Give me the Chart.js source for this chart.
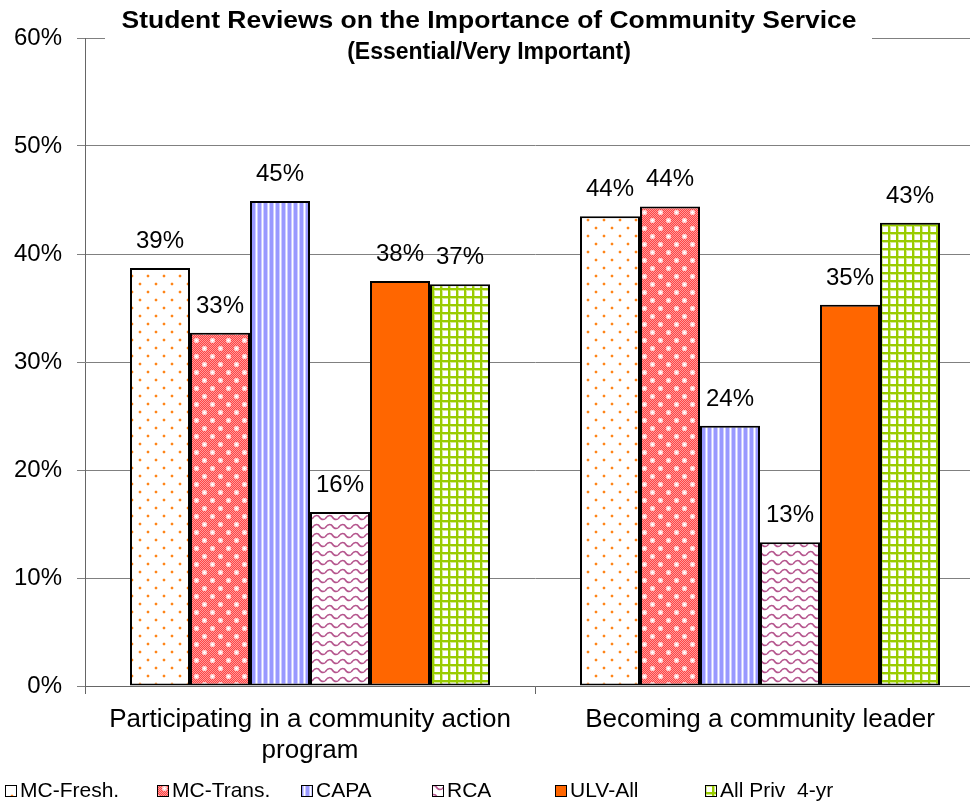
<!DOCTYPE html>
<html>
<head>
<meta charset="utf-8">
<script src="https://cdn.jsdelivr.net/npm/chart.js@4.4.1/dist/chart.umd.min.js"></script>
<style>
  html, body { margin: 0; padding: 0; background: #fff; overflow: hidden; }
  #wrap { width: 970px; height: 812px; overflow: hidden; }
</style>
</head>
<body>
<div id="wrap"><canvas id="chart" width="1000" height="812"></canvas></div>
<script>
// Survey categories and series
const categories = [['Participating in a community action', 'program'], 'Becoming a community leader'];
const seriesNames = ['MC-Fresh.', 'MC-Trans.', 'CAPA', 'RCA', 'ULV-All', 'All Priv  4-yr'];

// Percent answering "essential / very important"
const mcFresh = [38.7, 43.5];
const mcTrans = [32.7, 44.4];
const capa = [44.9, 24.1];
const rca = [16.1, 13.3];
const ulvAll = [37.5, 35.3];
const allPriv = [37.2, 42.9];
const seriesValues = [mcFresh, mcTrans, capa, rca, ulvAll, allPriv];

// Y axis range
const yMin = 0;
const yMax = 60;
const yStep = 10;

const titleLines = ['Student Reviews on the Importance of Community Service', '(Essential/Very Important)'];

const FONT = "'Liberation Sans', Arial, sans-serif";
const canvas = document.getElementById('chart');
const ctx = canvas.getContext('2d');

// small repeating tiles used as bar fills
function makePattern(w, h, draw) {
    const c = document.createElement('canvas');
    c.width = w;
    c.height = h;
    const g = c.getContext('2d');
    g.fillStyle = '#fff';
    g.fillRect(0, 0, w, h);
    draw(g);
    return ctx.createPattern(c, 'repeat');
}

const dots = makePattern(16, 16, g => {
    g.fillStyle = '#ffe3c8';
    g.fillRect(2, 3, 4, 2);
    g.fillRect(3, 2, 2, 4);
    g.fillRect(10, 11, 4, 2);
    g.fillRect(11, 10, 2, 4);
    g.fillStyle = '#ff8419';
    g.fillRect(3, 3, 2, 2);
    g.fillRect(11, 11, 2, 2);
});

const redCheck = makePattern(16, 16, g => {
    for (let y = 0; y < 16; y++) {
        for (let x = 0; x < 16; x++) {
            g.fillStyle = (x + y) % 2 ? '#ff4444' : '#ff9a9a';
            g.fillRect(x, y, 1, 1);
        }
    }
    [[4, 4], [12, 12]].forEach(([cx, cy]) => {
        g.fillStyle = '#ffcccc';
        g.fillRect(cx - 2, cy - 1, 5, 3);
        g.fillRect(cx - 1, cy - 2, 3, 5);
        g.fillStyle = '#fff';
        g.fillRect(cx - 1, cy, 3, 1);
        g.fillRect(cx, cy - 1, 1, 3);
    });
});

const blueStripes = makePattern(6, 6, g => {
    g.fillStyle = '#9999ff';
    g.fillRect(0, 0, 3, 6);
    g.fillStyle = '#ccccff';
    g.fillRect(3, 0, 1, 6);
    g.fillRect(5, 0, 1, 6);
});

const waves = makePattern(13, 9, g => {
    g.strokeStyle = '#b5558d';
    g.lineWidth = 1.5;
    g.beginPath();
    g.moveTo(0, 6);
    g.quadraticCurveTo(3.25, 1, 6.5, 3);
    g.quadraticCurveTo(9.75, 8, 13, 6);
    g.stroke();
});

const greenGrid = makePattern(8, 8, g => {
    g.fillStyle = '#d6eb8f';
    g.fillRect(0, 0, 8, 3);
    g.fillRect(0, 0, 3, 8);
    g.fillStyle = '#99cc00';
    g.fillRect(0, 0, 8, 2);
    g.fillRect(0, 0, 2, 8);
});

const fills = [dots, redCheck, blueStripes, waves, '#ff6600', greenGrid];

// value labels, title box and legend
const decor = {
    id: 'decor',
    afterDatasetsDraw(chart) {
        const c = chart.ctx;
        c.save();
        c.font = '24px ' + FONT;
        c.fillStyle = '#000';
        c.textAlign = 'center';
        c.textBaseline = 'alphabetic';
        seriesValues.forEach((vals, i) => {
            chart.getDatasetMeta(i).data.forEach((bar, j) => {
                c.fillText(Math.round(vals[j]) + '%', bar.x, bar.y - 20);
            });
        });
        c.restore();
    },
    afterDraw(chart) {
        const c = chart.ctx;
        c.save();
        c.fillStyle = '#fff';
        c.fillRect(105, 8, 767, 64);
        c.fillStyle = '#000';
        c.font = 'bold 23px ' + FONT;
        c.textAlign = 'center';
        c.textBaseline = 'middle';
        const stretch = [1.15, 1.0];
        titleLines.forEach((t, k) => {
            c.save();
            c.translate(489, 22 + k * 31);
            c.scale(stretch[k], 1);
            c.fillText(t, 0, 0);
            c.restore();
        });

        const legendX = [5, 157, 301, 432, 555, 705];
        c.font = '21px ' + FONT;
        c.textAlign = 'left';
        seriesNames.forEach((name, i) => {
            const x = legendX[i];
            c.fillStyle = fills[i];
            c.fillRect(x, 785, 11, 11);
            c.strokeStyle = '#000';
            c.lineWidth = 1;
            c.strokeRect(x + 0.5, 785.5, 11, 11);
            c.fillStyle = '#000';
            c.fillText(name, x + 15, 791);
        });
        c.restore();
    }
};

new Chart(canvas, {
    type: 'bar',
    data: {
        labels: categories,
        datasets: seriesNames.map((name, i) => ({
            label: name,
            data: seriesValues[i],
            backgroundColor: fills[i],
            borderColor: '#000',
            borderWidth: 2,
            borderSkipped: false,
            categoryPercentage: 0.8,
            barPercentage: 1.0
        }))
    },
    options: {
        responsive: false,
        animation: false,
        layout: { padding: { top: 38, right: 15, left: 0, bottom: 0 } },
        plugins: {
            legend: { display: false },
            title: { display: false },
            tooltip: { enabled: false }
        },
        scales: {
            x: {
                grid: { offset: true, drawOnChartArea: false, drawTicks: true, tickLength: 8, color: '#666' },
                border: { color: '#666' },
                ticks: { font: { family: FONT, size: 26 }, color: '#000', padding: 10, maxRotation: 0, autoSkip: false },
                afterFit: s => { s.height = 126; }
            },
            y: {
                min: yMin,
                max: yMax,
                grid: { color: '#808080', tickLength: 8 },
                border: { color: '#666' },
                ticks: {
                    stepSize: yStep,
                    font: { family: FONT, size: 24 },
                    color: '#000',
                    padding: 15,
                    callback: v => v + '%'
                },
                afterFit: s => { s.width = 85; }
            }
        }
    },
    plugins: [decor]
});
</script>
</body>
</html>
